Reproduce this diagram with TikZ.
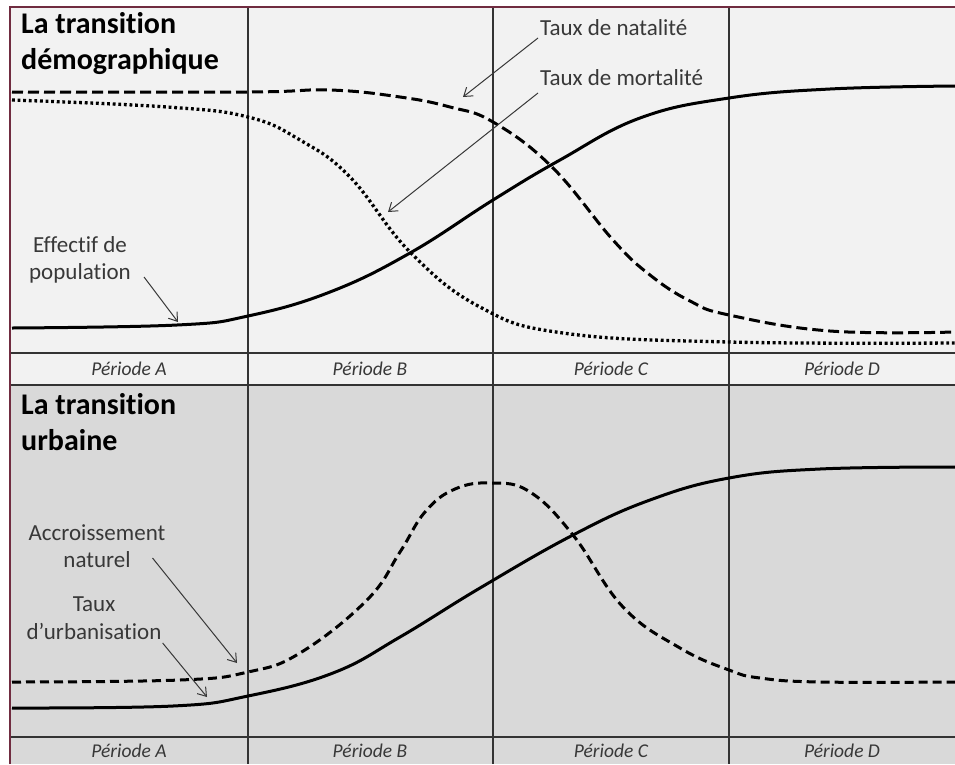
\documentclass[tikz,border=0pt]{standalone}
\usepackage{fontspec}
\setmainfont{Carlito}[Ligatures=NoCommon]
\usetikzlibrary{arrows.meta}
\definecolor{frame}{RGB}{112,44,64}
\definecolor{panelA}{RGB}{242,242,242}
\definecolor{panelB}{RGB}{217,217,217}
\definecolor{inkgray}{RGB}{56,56,56}
\tikzstyle{paneltitle}=[anchor=west,align=left,inner sep=0pt,font=\fontsize{30}{36}\selectfont\bfseries]
\tikzstyle{legendtext}=[align=center,inner sep=0pt,text=inkgray,font=\fontsize{23}{27.5}\selectfont]
\tikzstyle{periodtext}=[inner sep=0pt,text=inkgray,font=\fontsize{19.5}{23}\selectfont\itshape]
\tikzstyle{gridline} = [draw,line width=1.2pt,black!80]
\tikzstyle{pointer} = [draw,inkgray,line width=1pt,-{Straight Barb[length=8pt,width=11pt]}]
\tikzstyle{solidcurve} = [line width=3pt]
\tikzstyle{dashedcurve} = [line width=3pt,dash pattern=on 11pt off 5pt]
\tikzstyle{dottedcurve} = [line width=3.3pt,dash pattern=on 2.8pt off 2.8pt]
\begin{document}
\begin{tikzpicture}[x=1pt,y=-1pt]
  \useasboundingbox (0,0) rectangle (955,764);

  % panels
  \fill[panelA] (10,7) rectangle (955,385);
  \fill[panelB] (10,385) rectangle (955,764);
  \draw[frame,line width=2pt] (10,764) -- (10,7) -- (955,7);

  \foreach \x in {248,493,729}
      \path[gridline] (\x,8) -- (\x,764);
  \path[gridline] (11,353) -- (955,353);
  \path[gridline,line width=2pt] (11,385) -- (955,385);
  \path[gridline] (11,737) -- (955,737);

  \foreach \x/\name/\per in {129/a/A, 370/b/B, 611/c/C, 842/d/D} {
      \node[periodtext] (top\name) at (\x,369) {Période \per};
      \node[periodtext] (bot\name) at (\x,751) {Période \per};
  }

  \node[paneltitle] (demo) at (21,44) {La transition\\démographique};
  \node[paneltitle] (urb) at (21,422) {La transition\\urbaine};

  % curves of the demographic transition
  \draw[solidcurve] plot[smooth,tension=0.7] coordinates {(12,328) (177,325) (248,316) (330,292) (410,253) (493,200) (560,160) (640,118) (729,98) (830,89) (955,86)};
  \draw[dashedcurve] plot[smooth,tension=0.7] coordinates {(12,92) (248,92) (330,90) (400,97) (450,107) (493,122) (552,167) (613,240) (650,275) (690,301) (729,315) (830,331) (955,332)};
  \draw[dottedcurve] plot[smooth,tension=0.7] coordinates {(12,100) (167,107) (248,117) (300,140) (350,177) (410,252) (480,307) (563,333) (729,342) (955,343)};

  % curves of the urban transition
  \draw[solidcurve] plot[smooth,tension=0.7] coordinates {(12,708) (173,706) (248,696) (333,673) (400,637) (480,588) (573,535) (650,500) (729,478) (820,469) (955,467)};
  \draw[dashedcurve,dash pattern=on 9pt off 5pt] plot[smooth,tension=0.7] coordinates {(12,682) (180,680) (248,672) (300,653) (367,600) (400,552) (425,512) (455,489) (492,483) (530,492) (573,535) (623,607) (680,648) (729,670) (760,678) (820,682) (955,682)};

  % labels and their arrows
  \node[legendtext,anchor=west] (natalite) at (540,28) {Taux de natalité};
  \node[legendtext,anchor=west] (mortalite) at (540,78) {Taux de mortalité};
  \node[legendtext] (effectif) at (80,260) {Effectif de\\population};
  \node[legendtext] (accroissement) at (97,546) {Accroissement\\naturel};
  \node[legendtext] (urbanisation) at (94,618) {Taux\\d’urbanisation};

  \foreach \name/\x/\y in {natTip/463/97, morTip/388/212, popTip/178/322, accTip/237/663, urbTip/207/697}
      \coordinate (\name) at (\x,\y);

  \path[pointer] ([shift={(-2,10)}]natalite.west) -- (natTip);
  \path[pointer] ([shift={(-2,15)}]mortalite.west) -- (morTip);
  \path[pointer] ([shift={(13,17)}]effectif.east) -- (popTip);
  \path[pointer] ([shift={(-13,12)}]accroissement.east) -- (accTip);
  \path[pointer] ([shift={(1,25)}]urbanisation.east) -- (urbTip);
\end{tikzpicture}
\end{document}
